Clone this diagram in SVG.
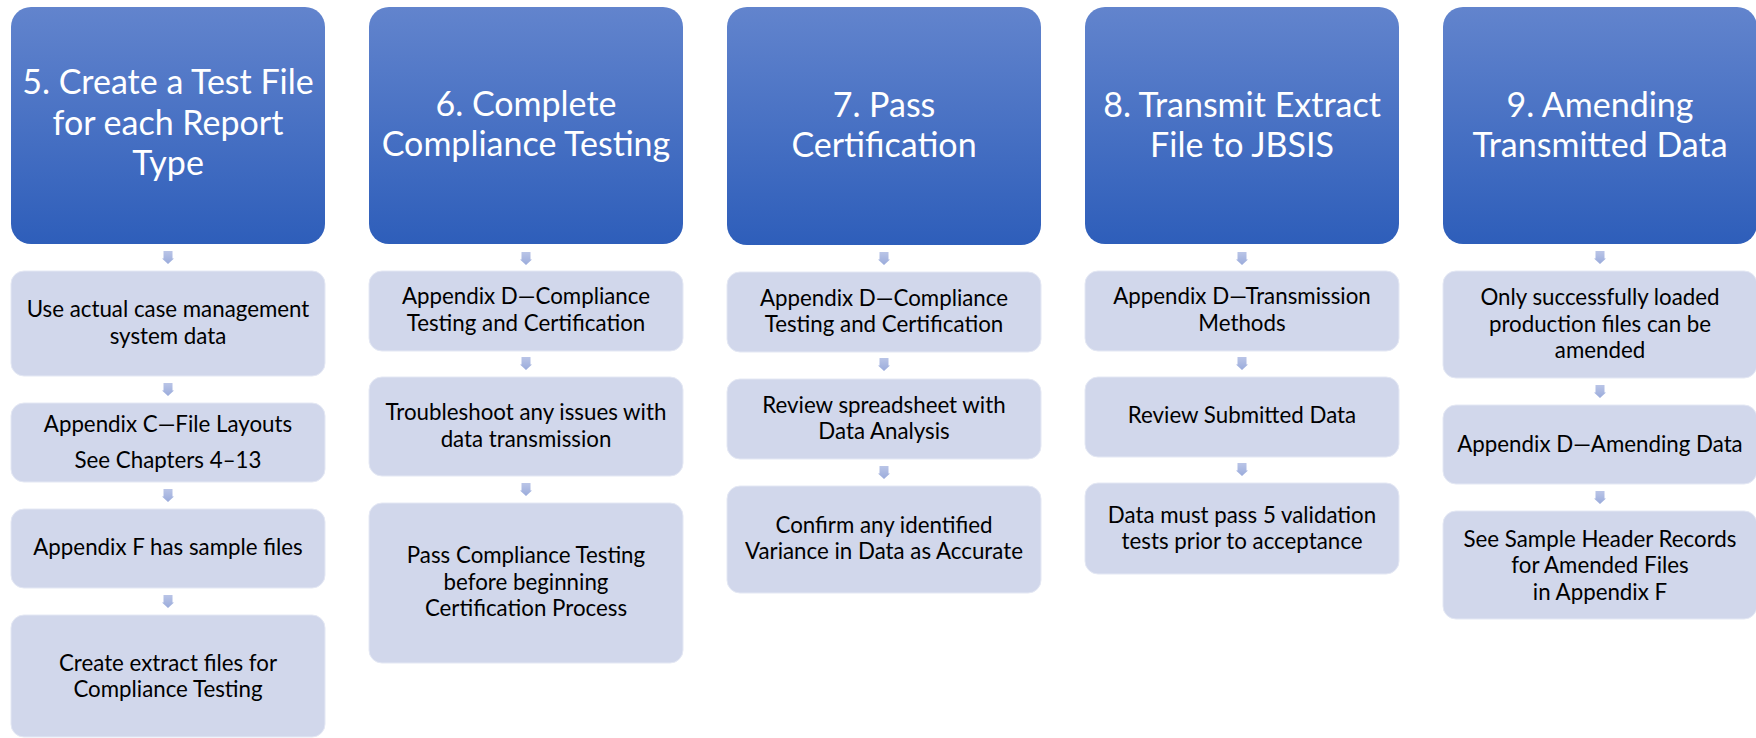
<svg xmlns="http://www.w3.org/2000/svg" xmlns:xlink="http://www.w3.org/1999/xlink" width="1756" height="738" viewBox="0 0 1756 738">
  <defs>
    <linearGradient id="hdrFill" x1="0" y1="0" x2="0" y2="1">
      <stop offset="0" stop-color="#6284CD"/>
      <stop offset="1" stop-color="#2E5EBA"/>
    </linearGradient>
    <linearGradient id="arrFill" x1="0" y1="0" x2="0" y2="1">
      <stop offset="0" stop-color="#BAC5E7"/>
      <stop offset="1" stop-color="#9AABDB"/>
    </linearGradient>
    <path id="arr" d="M-4.5,0 H4.5 V7.5 H6 L0,13 L-6,7.5 H-4.5 Z" fill="url(#arrFill)"/>
  </defs>
  <style>
    .hdr { fill: url(#hdrFill); }
    .box { fill: #D1D7EB; stroke: #E4E8F4; stroke-width: 1; }
    .ht { font-family: Lato, "Liberation Sans", sans-serif; font-size: 34px; fill: #FFFFFF; text-anchor: middle; }
    .bt { font-family: Lato, "Liberation Sans", sans-serif; font-size: 22.3px; fill: #000000; text-anchor: middle; }
  </style>
  <rect width="1756" height="738" fill="#FFFFFF"/>

  <!-- step 5 -->
  <g id="step5">
    <rect class="hdr" x="11" y="7" width="314" height="237" rx="20"/>
    <text class="ht" x="168" y="94">5. Create a Test File</text>
    <text class="ht" x="168" y="135">for each Report</text>
    <text class="ht" x="168" y="175">Type</text>
  </g>
  <g id="step5-a">
    <rect class="box" x="11" y="271" width="314" height="105" rx="13"/>
    <text class="bt" x="168" y="317">Use actual case management</text>
    <text class="bt" x="168" y="344">system data</text>
  </g>
  <g id="step5-b">
    <rect class="box" x="11" y="403" width="314" height="79" rx="13"/>
    <text class="bt" x="168" y="432">Appendix C—File Layouts</text>
    <text class="bt" x="168" y="468">See Chapters 4–13</text>
  </g>
  <g id="step5-c">
    <rect class="box" x="11" y="509" width="314" height="79" rx="13"/>
    <text class="bt" x="168" y="555">Appendix F has sample files</text>
  </g>
  <g id="step5-d">
    <rect class="box" x="11" y="615" width="314" height="122" rx="13"/>
    <text class="bt" x="168" y="671">Create extract files for</text>
    <text class="bt" x="168" y="697">Compliance Testing</text>
  </g>

  <!-- step 6 -->
  <g id="step6">
    <rect class="hdr" x="369" y="7" width="314" height="237" rx="20"/>
    <text class="ht" x="526" y="116">6. Complete</text>
    <text class="ht" x="526" y="156">Compliance Testing</text>
  </g>
  <g id="step6-a">
    <rect class="box" x="369" y="271" width="314" height="80" rx="13"/>
    <text class="bt" x="526" y="304">Appendix D—Compliance</text>
    <text class="bt" x="526" y="331">Testing and Certification</text>
  </g>
  <g id="step6-b">
    <rect class="box" x="369" y="377" width="314" height="99" rx="13"/>
    <text class="bt" x="526" y="420">Troubleshoot any issues with</text>
    <text class="bt" x="526" y="447">data transmission</text>
  </g>
  <g id="step6-c">
    <rect class="box" x="369" y="503" width="314" height="160" rx="13"/>
    <text class="bt" x="526" y="563">Pass Compliance Testing</text>
    <text class="bt" x="526" y="590">before beginning</text>
    <text class="bt" x="526" y="616">Certification Process</text>
  </g>

  <!-- step 7 -->
  <g id="step7">
    <rect class="hdr" x="727" y="7" width="314" height="238" rx="20"/>
    <text class="ht" x="884" y="117">7. Pass</text>
    <text class="ht" x="884" y="157">Certification</text>
  </g>
  <g id="step7-a">
    <rect class="box" x="727" y="272" width="314" height="80" rx="13"/>
    <text class="bt" x="884" y="306">Appendix D—Compliance</text>
    <text class="bt" x="884" y="332">Testing and Certification</text>
  </g>
  <g id="step7-b">
    <rect class="box" x="727" y="379" width="314" height="80" rx="13"/>
    <text class="bt" x="884" y="413">Review spreadsheet with</text>
    <text class="bt" x="884" y="439">Data Analysis</text>
  </g>
  <g id="step7-c">
    <rect class="box" x="727" y="486" width="314" height="107" rx="13"/>
    <text class="bt" x="884" y="533">Confirm any identified</text>
    <text class="bt" x="884" y="559">Variance in Data as Accurate</text>
  </g>

  <!-- step 8 -->
  <g id="step8">
    <rect class="hdr" x="1085" y="7" width="314" height="237" rx="20"/>
    <text class="ht" x="1242" y="117">8. Transmit Extract</text>
    <text class="ht" x="1242" y="157">File to JBSIS</text>
  </g>
  <g id="step8-a">
    <rect class="box" x="1085" y="271" width="314" height="80" rx="13"/>
    <text class="bt" x="1242" y="304">Appendix D—Transmission</text>
    <text class="bt" x="1242" y="331">Methods</text>
  </g>
  <g id="step8-b">
    <rect class="box" x="1085" y="377" width="314" height="80" rx="13"/>
    <text class="bt" x="1242" y="423">Review Submitted Data</text>
  </g>
  <g id="step8-c">
    <rect class="box" x="1085" y="483" width="314" height="91" rx="13"/>
    <text class="bt" x="1242" y="523">Data must pass 5 validation</text>
    <text class="bt" x="1242" y="549">tests prior to acceptance</text>
  </g>

  <!-- step 9 -->
  <g id="step9">
    <rect class="hdr" x="1443" y="7" width="314" height="237" rx="20"/>
    <text class="ht" x="1600" y="117">9. Amending</text>
    <text class="ht" x="1600" y="157">Transmitted Data</text>
  </g>
  <g id="step9-a">
    <rect class="box" x="1443" y="271" width="314" height="107" rx="13"/>
    <text class="bt" x="1600" y="305">Only successfully loaded</text>
    <text class="bt" x="1600" y="332">production files can be</text>
    <text class="bt" x="1600" y="358">amended</text>
  </g>
  <g id="step9-b">
    <rect class="box" x="1443" y="405" width="314" height="79" rx="13"/>
    <text class="bt" x="1600" y="452">Appendix D—Amending Data</text>
  </g>
  <g id="step9-c">
    <rect class="box" x="1443" y="511" width="314" height="108" rx="13"/>
    <text class="bt" x="1600" y="547">See Sample Header Records</text>
    <text class="bt" x="1600" y="573">for Amended Files</text>
    <text class="bt" x="1600" y="600">in Appendix F</text>
  </g>

  <!-- down arrows between stacked boxes -->
  <g id="connectors">
    <use href="#arr" x="168" y="251"/>
    <use href="#arr" x="168" y="383"/>
    <use href="#arr" x="168" y="489"/>
    <use href="#arr" x="168" y="595"/>

    <use href="#arr" x="526" y="252"/>
    <use href="#arr" x="526" y="357"/>
    <use href="#arr" x="526" y="483"/>

    <use href="#arr" x="884" y="252"/>
    <use href="#arr" x="884" y="358"/>
    <use href="#arr" x="884" y="466"/>

    <use href="#arr" x="1242" y="252"/>
    <use href="#arr" x="1242" y="357"/>
    <use href="#arr" x="1242" y="463"/>

    <use href="#arr" x="1600" y="251"/>
    <use href="#arr" x="1600" y="385"/>
    <use href="#arr" x="1600" y="491"/>
  </g>
</svg>
